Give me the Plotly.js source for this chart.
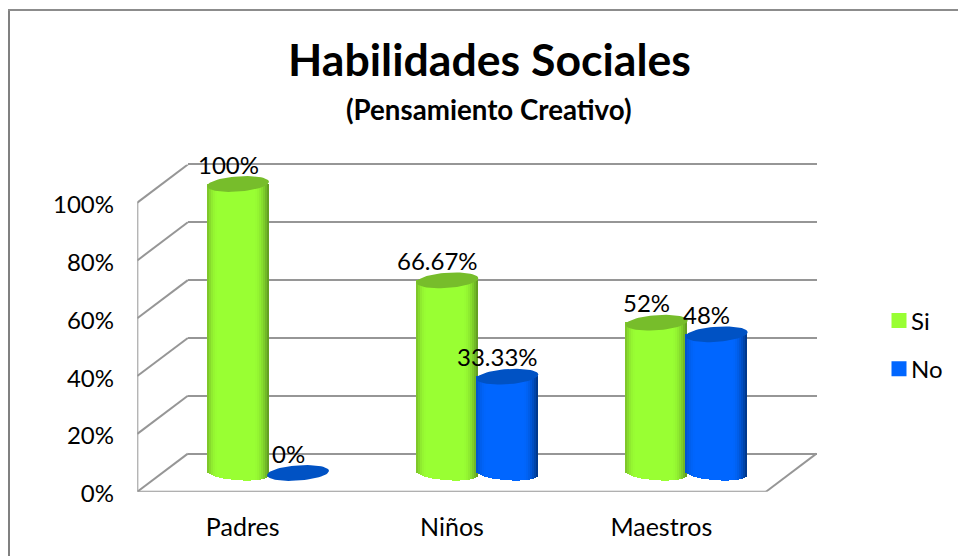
<!DOCTYPE html>
<html>
<head>
<meta charset="utf-8">
<script src="https://cdn.plot.ly/plotly-3.0.1.min.js"></script>
<style>html,body{margin:0;padding:0;background:#fff}#chart{width:958px;height:556px}</style>
</head>
<body>
<div id="chart"></div>
<script>
// Survey results
const categories = ['Padres', 'Niños', 'Maestros'];
const siValues = [100, 66.67, 52];
const noValues = [0, 33.33, 48];
const siLabels = ['100%', '66.67%', '52%'];
const noLabels = ['0%', '33.33%', '48%'];
const yTicks = [0, 20, 40, 60, 80, 100];
const yTickLabels = ['0%', '20%', '40%', '60%', '80%', '100%'];

const W = 958, H = 556;
const FONT = 'Lato, "Open Sans", sans-serif';
const INK = '#000000';
const WALL = '#969696';

// Planes of the pseudo-3D box, as pixel frames of the figure.
const backPlane  = {x0: 188, x1: 817, yBase: 453.5, yTop: 164};
const frontPlane = {x0: 138, x1: 766, yBase: 491,   yTop: 202.5};
const barPlane   = {x0: 163.35, x1: 791.35, yBase: 473, perUnit: 2.89, low: -12, high: 112};

// Tick labels sit slightly below the level of their gridlines.
const labelDrop = 2.5;
// Nudge that lines the box edges up with the front plane's outer edge.
const edgeNudge = 0.7;

const xDomain = (a, b) => [a / W, b / W];
const yDomain = (bottom, top) => [1 - bottom / H, 1 - top / H];

// Depth of the box in the units of the front axes.
const unitX = (frontPlane.x1 - frontPlane.x0) / 3;
const unitY = (frontPlane.yBase - frontPlane.yTop) / 100;
const depthX = 50.5 / unitX;
const depthY = 38 / unitY;

// Back wall axis runs a little past 0 and 100 so both end gridlines are kept.
const backPad = 2;
const backUnit = (backPlane.yBase - backPlane.yTop) / 100;

// Cylinder geometry in the units of the bar axes.
const barWidth = 62 / unitX;
const barOffset = 30 / unitX;
const capRy = 7.6 / barPlane.perUnit;
const capTilt = 2.1 / barPlane.perUnit;
const SLICES = 31;

function mix(a, b, t) {
  const c = a.map((v, i) => Math.round(v + (b[i] - v) * t));
  return `rgb(${c[0]},${c[1]},${c[2]})`;
}

// Horizontal shading across a cylinder: dark rims around a bright middle.
function shade(u, left, mid, right) {
  if (u < 0) {
    const t = Math.min(1, (u + 1) / 0.36);
    return mix(left, mid, t * (2 - t));
  }
  const t = Math.min(1, (1 - u) / 0.5);
  return mix(right, mid, t * (2 - t));
}

const palette = {
  si: {left: [122, 188, 40], mid: [153, 255, 51], right: [92, 146, 32], cap: '#77bd2b', flat: '#99ff33'},
  no: {left: [0, 80, 200], mid: [0, 102, 255], right: [0, 50, 125], cap: '#0052c4', flat: '#0066ff'}
};

function cylinderTraces(values, side, pal) {
  const sx = [], sy = [], sc = [], bx = [], by = [], bc = [];
  const fx = [], fy = [];
  const sliceW = barWidth / SLICES;
  values.forEach((v, i) => {
    const cx = i + side * barOffset;
    for (let k = 0; k < SLICES; k++) {
      const u = ((k + 0.5) / SLICES) * 2 - 1;
      const col = shade(u, pal.left, pal.mid, pal.right);
      if (v > 0) {
        sx.push(cx + u * barWidth / 2); sy.push(v); sc.push(col);
        bx.push(cx + u * barWidth / 2);
        by.push(-(capRy * Math.sqrt(1 - u * u) + capTilt * u));
        bc.push(col);
      }
    }
    for (let a = 0; a <= 60; a++) {
      const t = a / 60 * 2 * Math.PI;
      fx.push(cx + Math.cos(t) * barWidth / 2);
      fy.push(v + capRy * Math.sin(t) + capTilt * Math.cos(t));
    }
    fx.push(null); fy.push(null);
  });
  const common = {type: 'bar', xaxis: 'x4', yaxis: 'y4', width: sliceW * 1.02,
    showlegend: false, hoverinfo: 'skip'};
  return {
    bars: [
      Object.assign({}, common, {x: sx, y: sy, marker: {color: sc, line: {width: 0}}}),
      Object.assign({}, common, {x: bx, y: by, marker: {color: bc, line: {width: 0}}})
    ],
    face: {type: 'scatter', mode: 'lines', xaxis: 'x4', yaxis: 'y4', x: fx, y: fy,
      fill: 'toself', fillcolor: pal.cap, line: {width: 0, color: pal.cap},
      showlegend: false, hoverinfo: 'skip'}
  };
}

const siCyl = cylinderTraces(siValues, -1, palette.si);
const noCyl = cylinderTraces(noValues, 1, palette.no);

// Front edges of the box, then the slanted edges running back to the rear wall.
const edgeX = [-0.5, -0.5, 2.5, null], edgeY = [100, 0, 0, null];
yTicks.forEach(t => {
  edgeX.push(-0.5, -0.5 + depthX, null);
  edgeY.push(t, t + depthY, null);
});
edgeX.push(2.5, 2.5 + depthX);
edgeY.push(0, depthY);

const wallEdges = {type: 'scatter', mode: 'lines', xaxis: 'x3', yaxis: 'y3', x: edgeX, y: edgeY,
  cliponaxis: false, line: {color: WALL, width: 2}, showlegend: false, hoverinfo: 'skip'};

const anchorTrace = (xa, ya) => ({type: 'scatter', mode: 'none', xaxis: xa, yaxis: ya, x: [null], y: [null],
  showlegend: false, hoverinfo: 'skip'});

const legendKey = (name, color) => ({type: 'scatter', mode: 'markers', xaxis: 'x2', yaxis: 'y2',
  x: [null], y: [null], name, legendgroup: name,
  marker: {symbol: 'square', size: 15, color}});

const data = [
  anchorTrace('x', 'y'),
  wallEdges,
  legendKey('Si', palette.si.flat),
  legendKey('No', palette.no.flat),
  ...siCyl.bars, ...noCyl.bars,
  siCyl.face, noCyl.face
];

// Value labels sit up and to the left of each cylinder top.
const valueLabel = (v, text, i, side) => ({
  xref: 'x4', yref: 'y4', x: i + side * barOffset, y: v, text, showarrow: false,
  xshift: -10, yshift: 20, xanchor: 'center', yanchor: 'middle',
  font: {family: FONT, size: 24, color: INK}
});

const annotations = [
  {xref: 'paper', yref: 'paper', x: 488.5 / W, y: 1 - 109 / H, text: '<b>(Pensamiento Creativo)</b>',
   showarrow: false, xanchor: 'center', yanchor: 'middle', font: {family: FONT, size: 27.7, color: INK}},
  ...siValues.map((v, i) => valueLabel(v, siLabels[i], i, -1)),
  ...noValues.map((v, i) => valueLabel(v, noLabels[i], i, 1))
];

const hidden = {visible: false, fixedrange: true};

const layout = {
  width: W, height: H,
  margin: {l: 0, r: 0, t: 0, b: 0, pad: 0},
  paper_bgcolor: '#ffffff', plot_bgcolor: 'rgba(0,0,0,0)',
  barmode: 'overlay',
  bargap: 0,
  title: {text: '<b>Habilidades Sociales</b>', x: 489.5 / W, xanchor: 'center', y: 1 - 60 / H, yanchor: 'middle',
    font: {family: FONT, size: 44.6, color: INK}},
  showlegend: true,
  legend: {x: 871 / W, xanchor: 'left', y: 1 - 298.5 / H, yanchor: 'top', tracegroupgap: 14,
    bgcolor: 'rgba(0,0,0,0)', font: {family: FONT, size: 24, color: INK}},
  // Back wall: only its gridlines are visible.
  xaxis: {domain: xDomain(backPlane.x0, backPlane.x1), range: [-0.5, 2.5], showgrid: false,
    zeroline: false, showticklabels: false, ticks: '', showline: false, fixedrange: true},
  yaxis: {domain: yDomain(backPlane.yBase + backPad * backUnit, backPlane.yTop - backPad * backUnit),
    range: [-backPad, 100 + backPad], tickvals: yTicks,
    showgrid: true, gridcolor: WALL, gridwidth: 2, zeroline: false, showticklabels: false,
    ticks: '', showline: false, fixedrange: true},
  // Front plane: carries the tick labels.
  xaxis2: {domain: xDomain(frontPlane.x0, frontPlane.x1), range: [-0.5, 2.5], anchor: 'y2',
    tickvals: [0, 1, 2], ticktext: categories, showgrid: false, zeroline: false, ticks: '',
    showline: false, ticklabelstandoff: 16,
    tickfont: {family: FONT, size: 25, color: INK}, fixedrange: true},
  yaxis2: {domain: yDomain(frontPlane.yBase + labelDrop, frontPlane.yTop + labelDrop), range: [0, 100], anchor: 'x2',
    tickvals: yTicks, ticktext: yTickLabels, showgrid: false, zeroline: false, ticks: '',
    showline: false, ticklabelstandoff: 23,
    tickfont: {family: FONT, size: 24, color: INK}, fixedrange: true},
  // Frame of the whole box, holding its edges.
  xaxis3: Object.assign({}, hidden, {domain: xDomain(frontPlane.x0 - edgeNudge, frontPlane.x1 + depthX * unitX),
    range: [-0.5, 2.5 + depthX], anchor: 'y3'}),
  yaxis3: Object.assign({}, hidden, {domain: yDomain(frontPlane.yBase + edgeNudge, frontPlane.yTop - depthY * unitY),
    range: [0, 100 + depthY], anchor: 'x3'}),
  // Plane through the middle of the box, where the cylinders stand.
  xaxis4: Object.assign({}, hidden, {domain: xDomain(barPlane.x0, barPlane.x1), range: [-0.5, 2.5], anchor: 'y4'}),
  yaxis4: Object.assign({}, hidden, {
    domain: yDomain(barPlane.yBase - barPlane.low * barPlane.perUnit, barPlane.yBase - barPlane.high * barPlane.perUnit),
    range: [barPlane.low, barPlane.high], anchor: 'x4'}),
  annotations,
  shapes: [
    {type: 'line', xref: 'paper', yref: 'paper', x0: 9 / W, x1: 9 / W, y0: 0, y1: 1 - 9 / H,
     line: {color: '#808080', width: 2}, layer: 'below'},
    {type: 'line', xref: 'paper', yref: 'paper', x0: 8 / W, x1: 1, y0: 1 - 10 / H, y1: 1 - 10 / H,
     line: {color: '#8c8c8c', width: 2}, layer: 'below'}
  ]
};

Plotly.newPlot('chart', data, layout, {displayModeBar: false}).then(gd => {
  // Tighten the gap between the legend keys and their labels.
  gd.querySelectorAll('.legend .legendsymbols').forEach(g => g.setAttribute('transform', 'translate(8,0)'));
});
</script>
</body>
</html>
